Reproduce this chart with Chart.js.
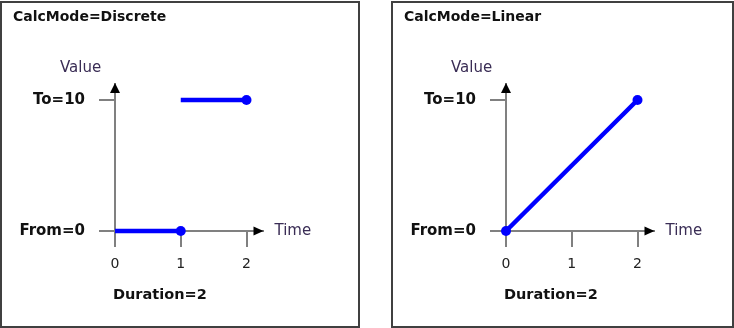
<!DOCTYPE html>
<html>
<head>
<meta charset="utf-8">
<script src="https://cdn.jsdelivr.net/npm/chart.js@4"></script>
<style>
  html, body { margin: 0; padding: 0; background: #fff; overflow: hidden; width: 734px; height: 328px; }
  .panel { position: absolute; top: 1px; height: 327px; border: 2px solid #404040; box-sizing: border-box; }
  canvas { position: absolute; top: 0; }
</style>
</head>
<body>
<div class="panel" style="left:0;width:360px"></div>
<div class="panel" style="left:391px;width:343px"></div>
<canvas id="discrete" width="360" height="328" style="left:0"></canvas>
<canvas id="linear" width="360" height="328" style="left:391px"></canvas>
<script>
const timeTicks = [0, 1, 2];
const valueTicks = [0, 10];
const valueTickLabels = ["From=0", "To=10"];

// discrete: holds From until t=1, then jumps to To
const discreteFirstTimes = [0, 1];
const discreteFirstValues = [0, 0];
const discreteSecondTimes = [1, 2];
const discreteSecondValues = [10, 10];

// linear: straight interpolation over the duration
const linearTimes = [0, 2];
const linearValues = [0, 10];

const BLUE = "#0000ff";
const AXIS = "#808080";
const FONT = "'DejaVu Sans', Verdana, sans-serif";

function series(times, values, radii) {
    return {
        data: times.map((t, i) => ({ x: t, y: values[i] })),
        borderColor: BLUE,
        backgroundColor: BLUE,
        borderWidth: 4.5,
        pointRadius: radii,
        pointBorderWidth: 0,
        pointBackgroundColor: BLUE,
        clip: false,
        tension: 0
    };
}

// arrowheads and the free-floating labels
const decorations = {
    id: "decorations",
    afterDraw(chart, args, opts) {
        const c = chart.ctx, a = chart.chartArea;
        c.save();
        c.fillStyle = "#000";
        c.beginPath();
        c.moveTo(a.right + 1, a.bottom);
        c.lineTo(a.right - 9, a.bottom - 4.5);
        c.lineTo(a.right - 9, a.bottom + 4.5);
        c.closePath();
        c.fill();
        c.beginPath();
        c.moveTo(a.left, a.top - 1);
        c.lineTo(a.left - 5, a.top + 9);
        c.lineTo(a.left + 5, a.top + 9);
        c.closePath();
        c.fill();

        c.textBaseline = "middle";
        c.font = "bold 14px " + FONT;
        c.fillStyle = "#111";
        c.fillText(opts.title, 13, 17);
        c.font = "bold 14.5px " + FONT;
        c.fillText("Duration=2", a.left - 2, 295);
        c.font = "15px " + FONT;
        c.fillStyle = "#3a2d55";
        c.fillText("Value", 60, 68);
        c.fillText("Time", a.right + 12, a.bottom);
        c.restore();
    }
};

function makeChart(id, title, datasets) {
    new Chart(document.getElementById(id), {
        type: "line",
        data: { datasets: datasets },
        plugins: [decorations],
        options: {
            responsive: false,
            animation: false,
            events: [],
            layout: { padding: { top: 84, right: 97.5, left: 0, bottom: 0 } },
            plugins: {
                legend: { display: false },
                tooltip: { enabled: false },
                decorations: { title: title }
            },
            scales: {
                x: {
                    type: "linear",
                    min: 0,
                    max: 2.2433,
                    afterBuildTicks: s => { s.ticks = timeTicks.map(v => ({ value: v })); },
                    afterFit: s => { s.height = 97; },
                    grid: { drawOnChartArea: false, drawTicks: true, tickLength: 16, color: AXIS, lineWidth: 2 },
                    border: { display: true, color: AXIS, width: 2 },
                    ticks: { padding: 9, color: "#222", font: { family: FONT, size: 14 } }
                },
                y: {
                    type: "linear",
                    min: 0,
                    max: 11.22,
                    afterBuildTicks: s => { s.ticks = valueTicks.map(v => ({ value: v })); },
                    afterFit: s => { s.width = 115; },
                    grid: { drawOnChartArea: false, drawTicks: true, tickLength: 16, color: AXIS, lineWidth: 2 },
                    border: { display: true, color: AXIS, width: 2 },
                    ticks: {
                        padding: 14,
                        color: "#111",
                        font: { family: FONT, size: 15, weight: "bold" },
                        callback: v => valueTickLabels[valueTicks.indexOf(v)]
                    }
                }
            }
        }
    });
}

makeChart("discrete", "CalcMode=Discrete", [
    series(discreteFirstTimes, discreteFirstValues, [0, 5]),
    series(discreteSecondTimes, discreteSecondValues, [0, 5])
]);

makeChart("linear", "CalcMode=Linear", [
    series(linearTimes, linearValues, [5, 5])
]);
</script>
</body>
</html>
